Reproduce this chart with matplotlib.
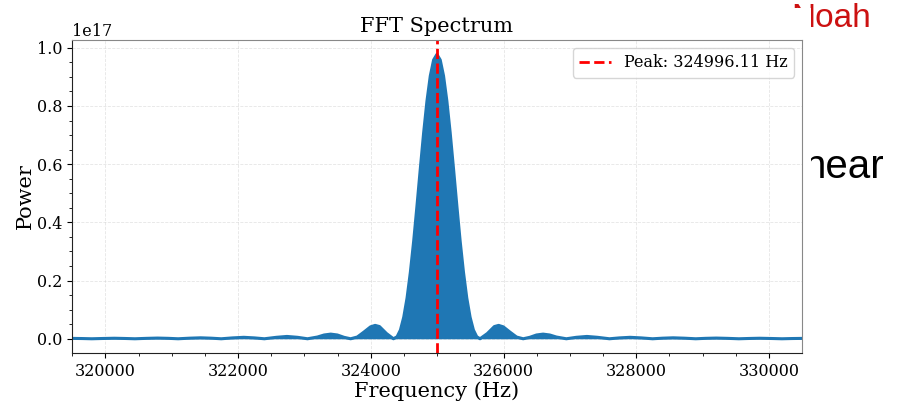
import matplotlib
matplotlib.use("Agg")
import matplotlib.pyplot as plt
from matplotlib.patches import Rectangle
import numpy as np

# ---------------- data ----------------
peak_hz = 324996.11
peak_label = "Peak: 324996.11 Hz"

# offsets from the peak frequency (Hz) and spectral power (x1e17), right side
right_offset_hz = [0, 50, 100, 150, 200, 250, 300, 350, 400, 450, 500, 550, 600, 650,
                   760, 866, 930, 1000, 1100, 1200, 1300,
                   1400, 1500, 1600, 1700, 1800, 1950,
                   2100, 2260, 2420, 2600,
                   2750, 2910, 3080, 3250,
                   3400, 3560, 3730, 3900,
                   4050, 4210, 4380, 4550,
                   4700, 4860, 5030, 5200,
                   5350, 5510, 5680, 5850]
right_power = [0.977, 0.958, 0.903, 0.817, 0.708, 0.585, 0.458, 0.336, 0.229, 0.140, 0.074, 0.030, 0.007, 0.0,
               0.018, 0.042, 0.046, 0.041, 0.023, 0.006, 0.0,
               0.005, 0.013, 0.016, 0.013, 0.006, 0.0,
               0.005, 0.008, 0.005, 0.0,
               0.003, 0.005, 0.003, 0.0,
               0.002, 0.0033, 0.002, 0.0,
               0.0015, 0.0024, 0.0014, 0.0,
               0.001, 0.0018, 0.001, 0.0,
               0.0008, 0.0013, 0.0008, 0.0]

# left side (offsets below the peak, Hz) and power (x1e17)
left_offset_hz = [5850, 5680, 5510, 5350, 5200,
                  5030, 4860, 4700, 4550,
                  4380, 4210, 4050, 3900,
                  3730, 3560, 3400, 3250,
                  3080, 2910, 2750, 2600,
                  2420, 2260, 2100, 1950,
                  1800, 1700, 1600, 1500, 1400, 1300,
                  1200, 1100, 1000, 930, 866, 760, 655,
                  600, 550, 500, 450, 400, 350, 300, 250, 200, 150, 100, 50]
left_power = [0.0, 0.0008, 0.0013, 0.0008, 0.0,
              0.001, 0.0018, 0.001, 0.0,
              0.0014, 0.0024, 0.0015, 0.0,
              0.002, 0.0033, 0.002, 0.0,
              0.003, 0.005, 0.003, 0.0,
              0.005, 0.008, 0.005, 0.0,
              0.006, 0.013, 0.016, 0.013, 0.005, 0.0,
              0.006, 0.023, 0.041, 0.046, 0.042, 0.018, 0.0,
              0.007, 0.030, 0.074, 0.140, 0.229, 0.336, 0.458, 0.585, 0.708, 0.817, 0.903, 0.958]

x_ticks = [320000, 322000, 324000, 326000, 328000, 330000]
y_ticks = [0.0, 0.2, 0.4, 0.6, 0.8, 1.0]
x_half_span = 5500

# ---------------- build series ----------------
freq = np.array([peak_hz - o for o in left_offset_hz] + [peak_hz + o for o in right_offset_hz])
power = np.array(left_power + right_power) * 1e17

plt.rcParams['font.family'] = ['DejaVu Serif']

fig = plt.figure(figsize=(8.99, 4.03), dpi=100)

# slide text peeking out behind the chart image
fig.text(0.880, 0.933, "Noah", fontsize=24, color='#cc1111',
         family='Liberation Sans', zorder=-3, ha='left', va='baseline')
fig.text(0.894, 0.558, "near", fontsize=29, color='black',
         family='Liberation Sans', zorder=-3, ha='left', va='baseline')
fig.patches.append(Rectangle((0, 0), 811 / 899, (403 - 8) / 403,
                             transform=fig.transFigure, facecolor='white',
                             edgecolor='none', zorder=-1))

ax = fig.add_axes([0.080, 0.124, 0.812, 0.777])
ax.set_axisbelow(True)
blue = '#1f77b4'
ax.fill_between(freq, 0, power, color=blue, linewidth=0)
ax.plot(freq, power, color=blue, linewidth=2.2)
ax.axvline(peak_hz, color='red', linestyle='--', linewidth=2, label=peak_label)

ax.set_xlim(peak_hz - x_half_span, peak_hz + x_half_span)
ax.set_ylim(-0.049e17, 1.027e17)
ax.set_xticks(x_ticks)
ax.set_yticks([v * 1e17 for v in y_ticks])
ax.xaxis.set_minor_locator(matplotlib.ticker.MultipleLocator(500))
ax.yaxis.set_minor_locator(matplotlib.ticker.MultipleLocator(0.05e17))
ax.ticklabel_format(axis='x', style='plain', useOffset=False)
ax.tick_params(labelsize=11.5)
ax.yaxis.get_offset_text().set_fontsize(11.5)

ax.grid(True, which='major', linestyle='--', color='#cccccc', alpha=0.5, linewidth=0.6)
for s in ['top', 'right']:
    ax.spines[s].set_color('#888888')
for s in ['left', 'bottom']:
    ax.spines[s].set_color('#222222')

ax.set_title("FFT Spectrum", fontsize=15)
ax.set_xlabel("Frequency (Hz)", fontsize=15, labelpad=1)
ax.set_ylabel("Power", fontsize=15, labelpad=1)
ax.legend(loc='upper right', fontsize=11.5)

fig.savefig("out.png", dpi=100)
